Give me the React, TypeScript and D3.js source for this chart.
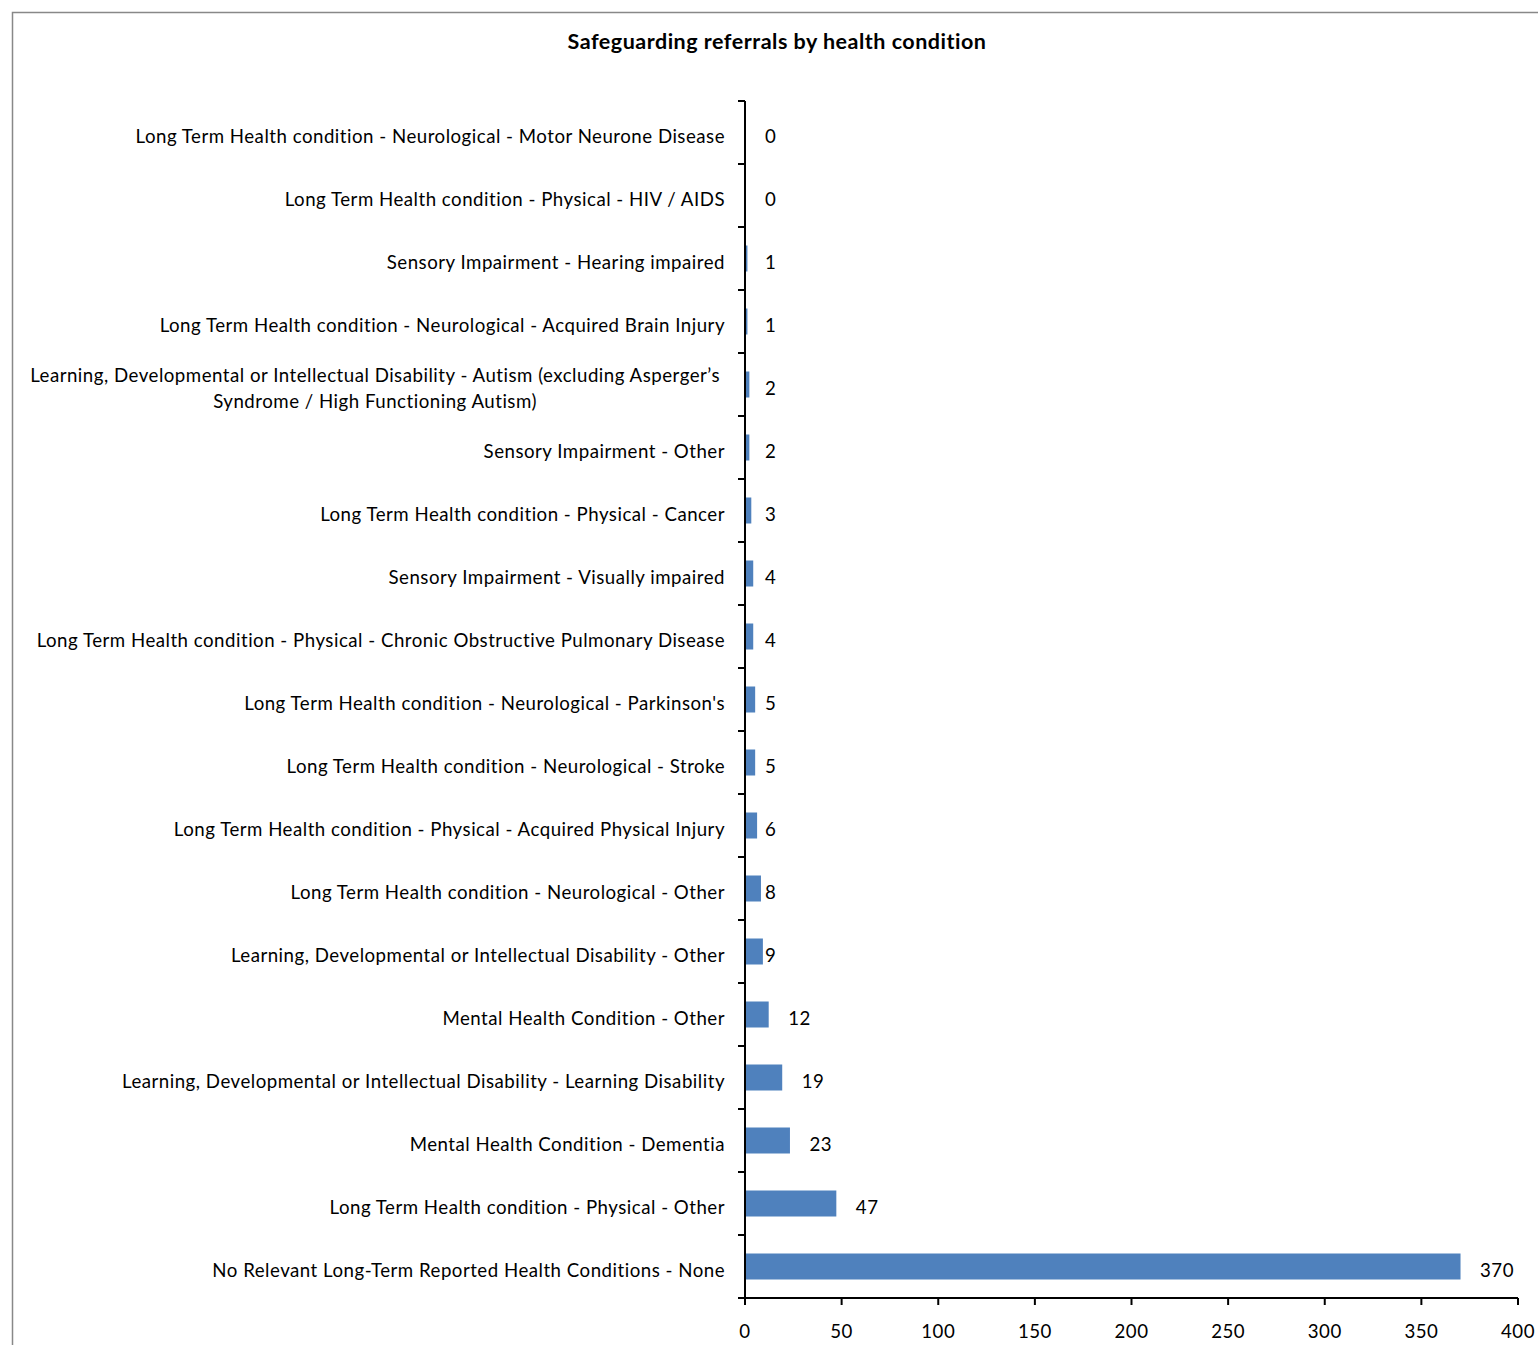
import React, { useEffect, useRef } from "react";
import * as d3 from "d3";

const title = "Safeguarding referrals by health condition";
const categories: string[] = [
  "Long Term Health condition - Neurological - Motor Neurone Disease",
  "Long Term Health condition - Physical - HIV / AIDS",
  "Sensory Impairment - Hearing impaired",
  "Long Term Health condition - Neurological - Acquired Brain Injury",
  "Learning, Developmental or Intellectual Disability - Autism (excluding Asperger\u2019s\nSyndrome / High Functioning Autism)",
  "Sensory Impairment - Other",
  "Long Term Health condition - Physical - Cancer",
  "Sensory Impairment - Visually impaired",
  "Long Term Health condition - Physical - Chronic Obstructive Pulmonary Disease",
  "Long Term Health condition - Neurological - Parkinson's",
  "Long Term Health condition - Neurological - Stroke",
  "Long Term Health condition - Physical - Acquired Physical Injury",
  "Long Term Health condition - Neurological - Other",
  "Learning, Developmental or Intellectual Disability - Other",
  "Mental Health Condition - Other",
  "Learning, Developmental or Intellectual Disability - Learning Disability",
  "Mental Health Condition - Dementia",
  "Long Term Health condition - Physical - Other",
  "No Relevant Long-Term Reported Health Conditions - None",
];
const values: number[] = [0, 0, 1, 1, 2, 2, 3, 4, 4, 5, 5, 6, 8, 9, 12, 19, 23, 47, 370];
const xTicks: number[] = [0, 50, 100, 150, 200, 250, 300, 350, 400];

const W = 1538;
const H = 1345;
const FONT = "Lato, Open Sans, sans-serif";
const FS = 18.67;
const LS = 0.5;
const DY = 10;

export default function App() {
  const ref = useRef<SVGSVGElement | null>(null);
  useEffect(() => {
    const svg = d3.select(ref.current);
    svg.selectAll("*").remove();
    const left = 745, right = 1518, top = 101, bottom = 1298;
    const x = d3.scaleLinear().domain([0, 400]).range([left, right]);
    const band = d3.scaleBand<number>().domain(d3.range(categories.length)).range([top, bottom]);

    svg.append("rect").attr("x", 12.5).attr("y", 12.5).attr("width", W + 20).attr("height", H + 20)
      .attr("fill", "white").attr("stroke", "#888").attr("stroke-width", 1.5);

    svg.append("text").attr("x", 777).attr("y", 48.5).attr("text-anchor", "middle")
      .attr("font-family", FONT).attr("font-weight", "bold").attr("font-size", 21.5)
      .attr("letter-spacing", 0.5).attr("fill", "#000")
      .text(title);

    // bars
    svg.append("g").selectAll("rect").data(values).join("rect")
      .attr("x", x(0) + 0.5)
      .attr("y", (_, i) => band(i)! + band.bandwidth() / 2 - 13)
      .attr("width", (d) => Math.max(0, x(d) - x(0)))
      .attr("height", 26)
      .attr("fill", "#4F81BD");

    // value labels
    svg.append("g").selectAll("text").data(values).join("text")
      .attr("x", (d) => (d >= 10 ? x(d) + 20 : x(0) + 20))
      .attr("y", (_, i) => band(i)! + band.bandwidth() / 2 + DY)
      .attr("font-family", FONT).attr("font-size", FS).attr("letter-spacing", LS).attr("fill", "#000")
      .text((d) => String(d));

    // axes
    const ya = svg.append("g").attr("stroke", "#000").attr("stroke-width", 2);
    ya.append("line").attr("x1", left).attr("x2", left).attr("y1", top).attr("y2", bottom);
    d3.range(categories.length + 1).forEach((i) => {
      const yy = top + i * band.bandwidth();
      ya.append("line").attr("x1", left - 7).attr("x2", left).attr("y1", yy).attr("y2", yy);
    });
    ya.append("line").attr("x1", left - 7).attr("x2", right).attr("y1", bottom).attr("y2", bottom);
    xTicks.forEach((t) => {
      ya.append("line").attr("x1", x(t)).attr("x2", x(t)).attr("y1", bottom).attr("y2", bottom + 7);
    });
    svg.append("g").selectAll("text").data(xTicks).join("text")
      .attr("x", (d) => x(d)).attr("y", 1338).attr("text-anchor", "middle")
      .attr("font-family", FONT).attr("font-size", FS).attr("letter-spacing", LS).attr("fill", "#000")
      .text((d) => String(d));

    // category labels
    const lg = svg.append("g");
    categories.forEach((c, i) => {
      const lines = c.split("\n");
      const cy = band(i)! + band.bandwidth() / 2;
      if (lines.length === 1) {
        lg.append("text").attr("x", 725).attr("y", cy + DY).attr("text-anchor", "end")
          .attr("font-family", FONT).attr("font-size", FS).attr("letter-spacing", LS).attr("fill", "#000").text(c);
      } else {
        const ts = lines.map((l, k) =>
          lg.append("text").attr("y", cy + DY + (k - (lines.length - 1) / 2) * 26)
            .attr("text-anchor", "middle").attr("font-family", FONT).attr("font-size", FS)
            .attr("letter-spacing", LS).attr("fill", "#000").text(l)
        );
        const maxW = d3.max(ts, (t) => (t.node() as SVGTextElement).getComputedTextLength()) || 0;
        ts.forEach((t) => t.attr("x", 720 - maxW / 2));
      }
    });
  }, []);
  return (
    <svg ref={ref} width={W} height={H} style={{ position: "absolute", left: 0, top: 0, background: "white" }} />
  );
}
